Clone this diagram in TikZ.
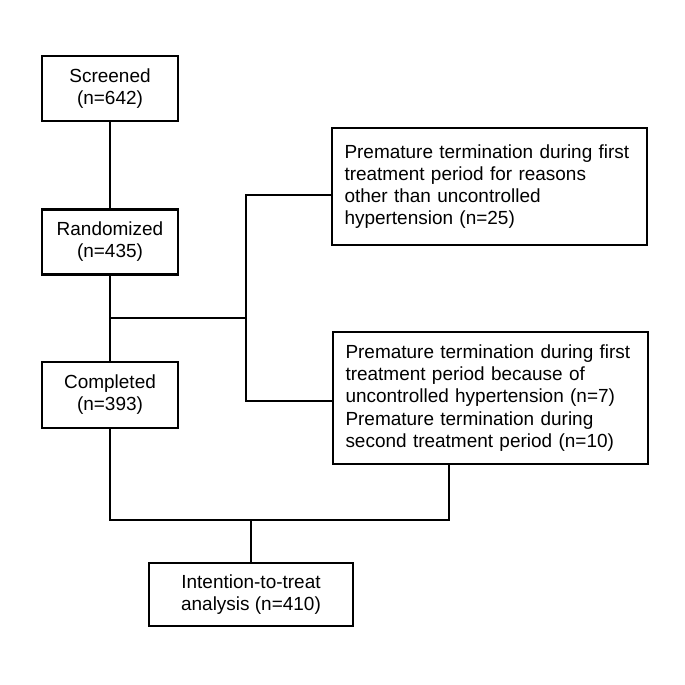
\documentclass[tikz,border=0pt]{standalone}
\usepackage{fontspec}
\setmainfont{Liberation Sans}
\usetikzlibrary{positioning,calc}

\begin{document}
\begin{tikzpicture}[
  stage/.style={draw, line width=1.6pt, minimum width=2.72cm, minimum height=1.3cm,
                align=center, font=\fontsize{10.8}{12.6}\selectfont, inner sep=1pt},
  drop/.style={draw, line width=1.6pt, text width=5.8cm, inner xsep=0.25cm,
               align=left, font=\fontsize{10.8}{12.6}\selectfont},
  link/.style={line width=1.6pt}
]
  \useasboundingbox (0,0) rectangle (13.7,-13.7);

  % main flow
  \node[stage] (scr)  at (2.2,-1.77) {Screened\\(n=642)};
  \node[stage] (rand) at (2.2,-4.84) {Randomized\\(n=435)};
  \node[stage, minimum height=1.32cm] (comp) at (2.2,-7.9) {Completed\\(n=393)};
  \node[stage, minimum width=4.08cm, minimum height=1.26cm] (itt) at (5.02,-11.89)
       {Intention-to-treat\\analysis (n=410)};

  % withdrawals
  \node[drop, minimum height=2.34cm] (early) at (9.79,-3.73)
       {Premature termination during first\\treatment period for reasons\\other than uncontrolled\\hypertension (n=25)};
  \node[drop, minimum height=2.64cm] (late) at (9.81,-7.96)
       {Premature termination during first\\treatment period because of\\uncontrolled hypertension (n=7)\\Premature termination during\\second treatment period (n=10)};

  \coordinate (split) at (4.92,-6.36);
  \coordinate (join)  at (8.98,-10.4);

  \draw[link] (scr) -- (rand);
  \draw[link] (rand) -- (comp);
  \draw[link] (rand.south |- split) -- (split);
  \draw[link] ([yshift=-0.17cm]early.west) -| (split) |- ([yshift=-0.06cm]late.west);
  \draw[link] (comp.south) |- (join) -- (join |- late.south);
  \draw[link] (itt.north) -- (itt.north |- join);
\end{tikzpicture}
\end{document}
